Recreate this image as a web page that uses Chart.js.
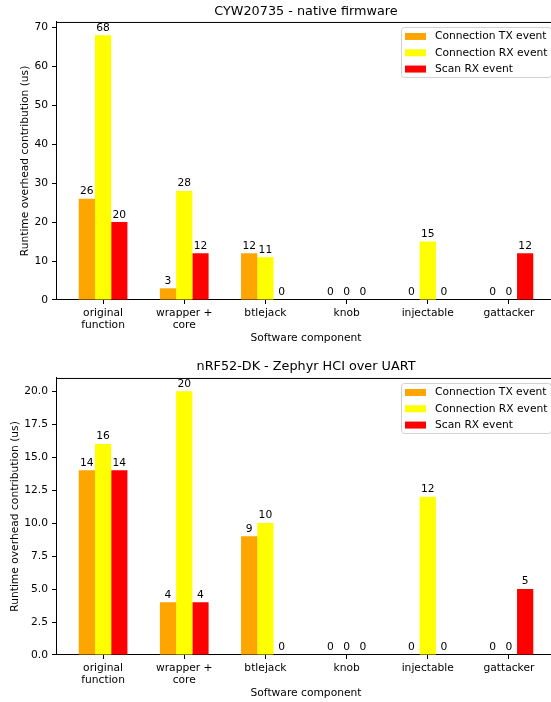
<!DOCTYPE html>
<html>
<head>
<meta charset="utf-8">
<script src="https://cdn.jsdelivr.net/npm/chart.js@4/dist/chart.umd.min.js"></script>
<style>
html, body { margin: 0; padding: 0; background: #fff; overflow: hidden; }
.box { position: absolute; left: 0; width: 570px; height: 351px; }
</style>
</head>
<body>
<div class="box" style="top:0"><canvas id="c1" width="570" height="351"></canvas></div>
<div class="box" style="top:351px"><canvas id="c2" width="570" height="351"></canvas></div>
<script>
const categories = [["original", "function"], ["wrapper +", "core"], "btlejack", "knob", "injectable", "gattacker"];
const seriesNames = ["Connection TX event", "Connection RX event", "Scan RX event"];
const seriesColors = ["#ffa500", "#ffff00", "#ff0000"];

// CYW20735 - native firmware
const cywTx = [26, 3, 12, 0, 0, 0];
const cywRx = [68, 28, 11, 0, 15, 0];
const cywScan = [20, 12, 0, 0, 0, 12];

// nRF52-DK - Zephyr HCI over UART
const nrfTx = [14, 4, 9, 0, 0, 0];
const nrfRx = [16, 20, 10, 0, 12, 0];
const nrfScan = [14, 4, 0, 0, 0, 5];

const FONT = "DejaVu Sans";
const SMALL = 10.7;
const BIG = 12.8;
Chart.defaults.font.family = FONT;
Chart.defaults.color = "#000";

// value labels, top spine and the legend box
const extras = {
    id: "extras",
    afterDatasetsDraw(chart) {
        const ctx = chart.ctx;
        const area = chart.chartArea;
        ctx.save();
        ctx.font = SMALL + "px '" + FONT + "'";
        ctx.fillStyle = "#000";
        ctx.textAlign = "center";
        ctx.textBaseline = "bottom";
        chart.data.datasets.forEach((ds, i) => {
            chart.getDatasetMeta(i).data.forEach((el, j) => {
                ctx.fillText(String(ds.data[j].y), el.x, el.y - 2);
            });
        });

        // top spine
        ctx.strokeStyle = "#000";
        ctx.lineWidth = 1;
        ctx.beginPath();
        ctx.moveTo(area.left, area.top + 0.5);
        ctx.lineTo(area.right, area.top + 0.5);
        ctx.stroke();

        // legend
        const w = 150, h = 50;
        const lx = area.right - 5 - w, ly = area.top + 5;
        ctx.beginPath();
        ctx.roundRect(lx + 0.5, ly + 0.5, w, h, 3);
        ctx.fillStyle = "rgba(255,255,255,0.8)";
        ctx.fill();
        ctx.strokeStyle = "#d0d0d0";
        ctx.stroke();
        ctx.textAlign = "left";
        ctx.textBaseline = "middle";
        seriesNames.forEach((name, i) => {
            const cy = ly + 9.5 + i * 16.3;
            ctx.fillStyle = seriesColors[i];
            ctx.fillRect(lx + 4, cy - 3.5, 21, 7);
            ctx.fillStyle = "#000";
            ctx.fillText(name, lx + 34, cy);
        });
        ctx.restore();
    }
};

function makeChart(id, title, tx, rx, scan, yMax, yStep, fmt, titlePad, xHeight, xTitlePad, yTitlePad) {
    const series = [tx, rx, scan];
    new Chart(document.getElementById(id), {
        type: "bar",
        data: {
            datasets: series.map((vals, i) => ({
                label: seriesNames[i],
                data: vals.map((v, k) => ({ x: k, y: v })),
                backgroundColor: seriesColors[i],
                borderWidth: 0,
                categoryPercentage: 0.6,
                barPercentage: 1.0
            }))
        },
        options: {
            responsive: false,
            animation: false,
            devicePixelRatio: 1,
            layout: { padding: { left: 0, right: 14, top: 0, bottom: 0 } },
            plugins: {
                legend: { display: false },
                tooltip: { enabled: false },
                title: {
                    display: true,
                    text: title,
                    fullSize: false,
                    color: "#000",
                    font: { size: BIG, weight: "normal" },
                    padding: titlePad
                }
            },
            scales: {
                x: {
                    type: "linear",
                    offset: false,
                    min: -0.58,
                    max: 5.58,
                    afterBuildTicks: s => { s.ticks = categories.map((c, k) => ({ value: k })); },
                    afterFit: s => { s.height = xHeight; },
                    ticks: {
                        autoSkip: false,
                        maxRotation: 0,
                        padding: 3,
                        color: "#000",
                        font: { size: SMALL, lineHeight: 1.12 },
                        callback: v => categories[v]
                    },
                    grid: { display: true, offset: false, drawOnChartArea: false, tickLength: 4, color: "#000" },
                    border: { display: true, color: "#000", width: 1 },
                    title: {
                        display: true,
                        text: "Software component",
                        color: "#000",
                        font: { size: SMALL },
                        padding: { top: 0, bottom: xTitlePad }
                    }
                },
                y: {
                    min: 0,
                    max: yMax,
                    afterFit: s => { s.width = 56; },
                    ticks: {
                        stepSize: yStep,
                        includeBounds: false,
                        padding: 4,
                        color: "#000",
                        font: { size: SMALL },
                        callback: v => fmt(v)
                    },
                    grid: { display: true, drawOnChartArea: false, tickLength: 4, color: "#000" },
                    border: { display: true, color: "#000", width: 1 },
                    title: {
                        display: true,
                        text: "Runtime overhead contribution (us)",
                        color: "#000",
                        font: { size: SMALL },
                        padding: { top: yTitlePad, bottom: 0 }
                    }
                }
            }
        },
        plugins: [extras]
    });
}

makeChart("c1", "CYW20735 - native firmware", cywTx, cywRx, cywScan, 71.4, 10,
    v => String(v), { top: 3.5, bottom: 3.1 }, 51, 6.6, 19.2);
makeChart("c2", "nRF52-DK - Zephyr HCI over UART", nrfTx, nrfRx, nrfScan, 21, 2.5,
    v => v.toFixed(1), { top: 7.5, bottom: 4.1 }, 47, 2.6, 8.8);
</script>
</body>
</html>
